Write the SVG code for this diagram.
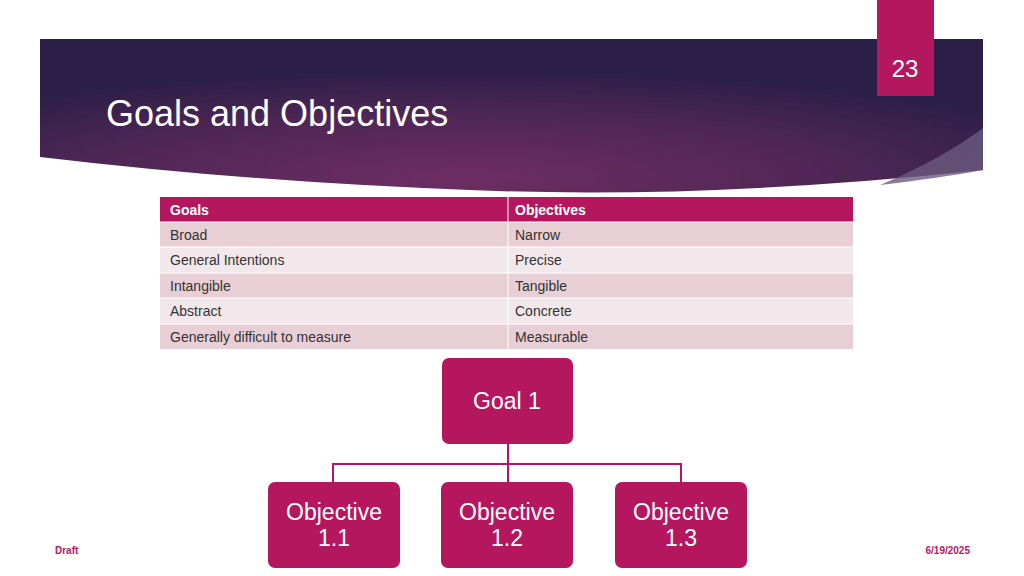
<svg xmlns="http://www.w3.org/2000/svg" width="1024" height="576" viewBox="0 0 1024 576">
<defs>
<radialGradient id="bg" cx="0.45" cy="0.9" r="0.7">
<stop offset="0" stop-color="#6e2d63"/>
<stop offset="0.6" stop-color="#4c2654"/>
<stop offset="1" stop-color="#2c1f47"/>
</radialGradient>
<style>
.n{fill:#b5175f;}
.nt{font-family:"Liberation Sans",sans-serif;font-size:23px;fill:#fff;text-anchor:middle;}
.tt{font-family:"Liberation Sans",sans-serif;font-size:14px;fill:#333;}
.th{font-family:"Liberation Sans",sans-serif;font-size:14px;fill:#fff;font-weight:bold;}
.ra{fill:#e8cfd6;}
.rb{fill:#f2e8eb;}
.c{fill:none;stroke:#b5175f;stroke-width:2;}
</style>
</defs>
<rect width="1024" height="576" fill="#fff"/>
<path d="M40 39 H983 V170 Q700 200 470 190 Q250 182 40 157 Z" fill="url(#bg)"/>
<path d="M880 185 Q940 160 983 128 V170 Q940 178 880 185 Z" fill="#6b5a80" opacity="0.8"/>
<rect x="877" y="0" width="57" height="96" fill="#b5175f"/>
<text x="905" y="77" font-family="Liberation Sans,sans-serif" font-size="24" fill="#fff" text-anchor="middle">23</text>
<text x="106" y="126" font-family="Liberation Sans,sans-serif" font-size="36" fill="#fff">Goals and Objectives</text>
<g id="table">
<rect x="160" y="197" width="693" height="25" class="n"/>
<rect x="160" y="222" width="693" height="25" class="ra"/>
<rect x="160" y="247" width="693" height="26" class="rb"/>
<rect x="160" y="273" width="693" height="25" class="ra"/>
<rect x="160" y="298" width="693" height="26" class="rb"/>
<rect x="160" y="324" width="693" height="25" class="ra"/>
<g stroke="#fff" stroke-width="1"><line x1="508" y1="197" x2="508" y2="349"/><line x1="160" y1="222" x2="853" y2="222"/><line x1="160" y1="247" x2="853" y2="247"/><line x1="160" y1="273" x2="853" y2="273"/><line x1="160" y1="298" x2="853" y2="298"/><line x1="160" y1="324" x2="853" y2="324"/></g>
<text x="170" y="215" class="th">Goals</text><text x="515" y="215" class="th">Objectives</text>
<text x="170" y="240" class="tt">Broad</text><text x="515" y="240" class="tt">Narrow</text>
<text x="170" y="265" class="tt">General Intentions</text><text x="515" y="265" class="tt">Precise</text>
<text x="170" y="291" class="tt">Intangible</text><text x="515" y="291" class="tt">Tangible</text>
<text x="170" y="316" class="tt">Abstract</text><text x="515" y="316" class="tt">Concrete</text>
<text x="170" y="342" class="tt">Generally difficult to measure</text><text x="515" y="342" class="tt">Measurable</text>
</g>
<g id="connectors">
<path class="c" d="M508 444 V464 M333 482 V464 H681 V482 M508 464 V482"/>
</g>
<g id="goal1"><rect x="442" y="358" width="131" height="86" rx="7" class="n"/><text x="507" y="409" class="nt">Goal 1</text></g>
<g id="obj11"><rect x="268" y="482" width="132" height="86" rx="7" class="n"/><text x="334" y="520" class="nt">Objective</text><text x="334" y="546" class="nt">1.1</text></g>
<g id="obj12"><rect x="441" y="482" width="132" height="86" rx="7" class="n"/><text x="507" y="520" class="nt">Objective</text><text x="507" y="546" class="nt">1.2</text></g>
<g id="obj13"><rect x="615" y="482" width="132" height="86" rx="7" class="n"/><text x="681" y="520" class="nt">Objective</text><text x="681" y="546" class="nt">1.3</text></g>
<text x="55" y="554" font-family="Liberation Sans,sans-serif" font-size="10" font-weight="bold" fill="#b5175f">Draft</text>
<text x="970" y="554" font-family="Liberation Sans,sans-serif" font-size="10" font-weight="bold" fill="#b5175f" text-anchor="end">6/19/2025</text>
</svg>
